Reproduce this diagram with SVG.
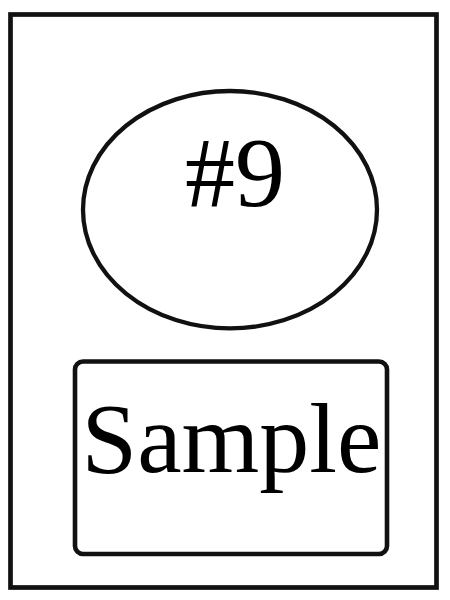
<svg xmlns="http://www.w3.org/2000/svg" width="450" height="600" viewBox="0 0 450 600">
<style>
.shape{fill:#fff;stroke:#111;}
.lbl{font-family:"Liberation Serif","Times New Roman",serif;fill:#000;text-anchor:middle;font-size:100px;}
</style>
<rect x="0" y="0" width="450" height="600" fill="#fff"/>
<g id="frame"><rect class="shape" x="10.5" y="14.5" width="426" height="573" stroke-width="4.7"/></g>
<g id="node-ellipse">
<ellipse class="shape" cx="230" cy="209.7" rx="147" ry="118.7" stroke-width="4.3"/>
<text class="lbl" x="235" y="205.5">#9</text>
</g>
<g id="node-sample">
<rect class="shape" x="75" y="361.5" width="312" height="192.5" rx="8" stroke-width="4.6"/>
<text class="lbl" x="231.5" y="471.5">Sample</text>
</g>
<g id="connectors"></g>
</svg>
